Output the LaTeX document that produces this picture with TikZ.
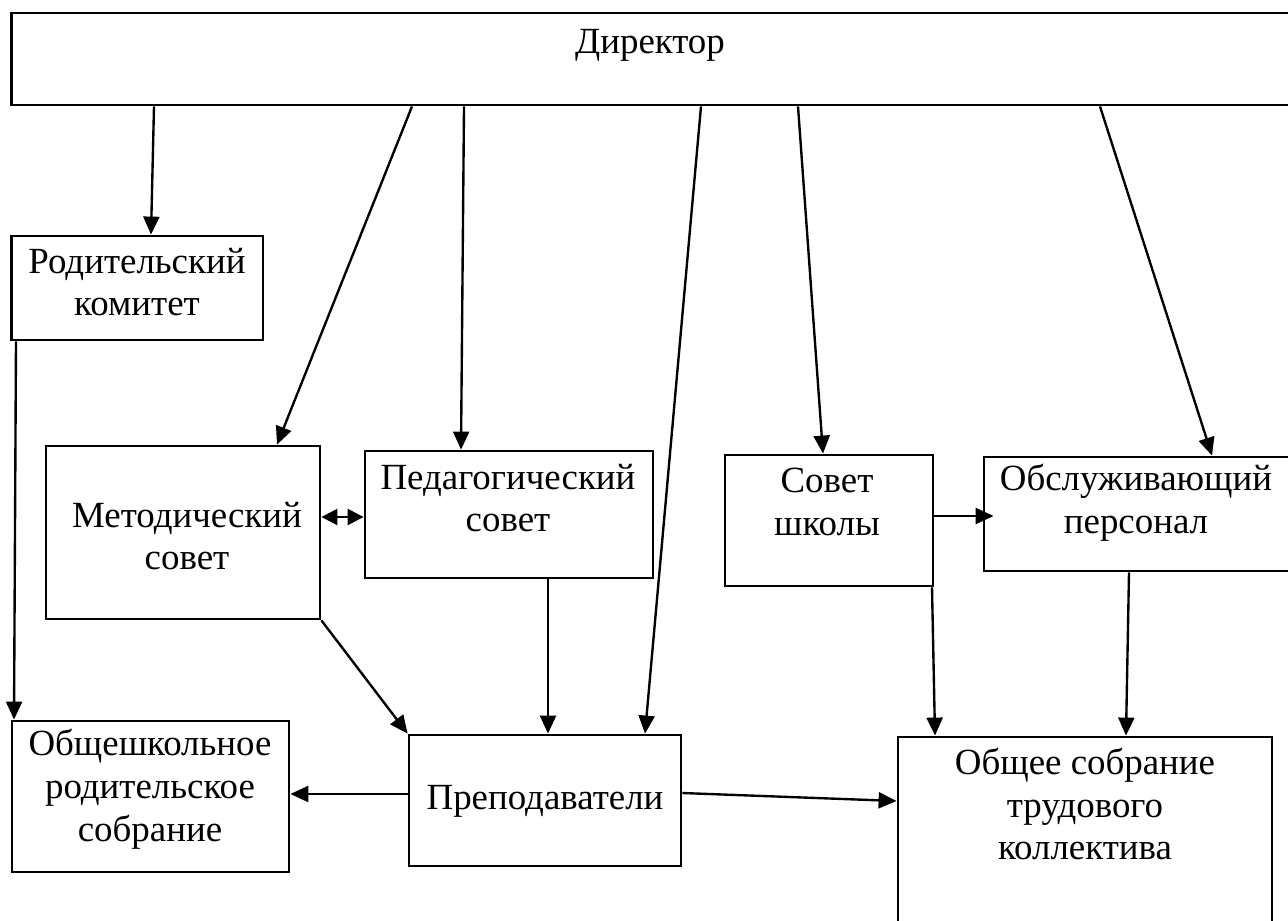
\documentclass[tikz,border=0pt]{standalone}
\usepackage{fontspec}
\setmainfont{Liberation Serif}
\usetikzlibrary{arrows.meta, fit}

\begin{document}
\begin{tikzpicture}[x=0.02cm, y=-0.02cm,
    box/.style={draw, line width=1.6pt, inner sep=0pt},
    txt/.style={align=center, inner sep=0pt, font=\fontsize{21}{24.4}\selectfont},
    arr/.style={-{Triangle[length=0.36cm, width=0.32cm]}, line width=1.35pt},
    dblarr/.style={{Triangle[length=0.32cm, width=0.32cm]}-{Triangle[length=0.32cm, width=0.32cm]}, line width=1.35pt}]
    \useasboundingbox (0,0) rectangle (1288,920);
    \clip (0,0) rectangle (1288,920);

    % Boxes:
    \node[box, fit={(11.5,13) (1300,105)}] (dir) {};
    \node[box, fit={(11.5,236) (263,340)}] (rk) {};
    \node[box, fit={(46,446) (320,619)}] (met) {};
    \node[box, fit={(365,451) (653,578)}] (ped) {};
    \node[box, fit={(725,455) (933,586)}] (ss) {};
    \node[box, fit={(984,457) (1300,571)}] (obs) {};
    \node[box, fit={(12,721) (289,872)}] (obsh) {};
    \node[box, fit={(409,735) (681,866)}] (prep) {};
    \node[box, fit={(898,737) (1272,940)}] (obsob) {};

    % Texts:
    \node[txt] (dirt) at (650,45) {Директор};
    \node[txt] (rkt) at (137,282) {Родительский\\комитет};
    \node[txt] (mett) at (187,536) {Методический\\совет};
    \node[txt] (pedt) at (508,498) {Педагогический\\совет};
    \node[txt] (sst) at (827,502) {Совет\\школы};
    \node[txt] (obst) at (1136,503) {Обслуживающий\\персонал};
    \node[txt] (obsht) at (150,789) {Общешкольное\\родительское\\собрание};
    \node[txt] (prept) at (545,801) {Преподаватели};
    \node[txt] (obsobt) at (1085,804) {Общее собрание\\трудового\\коллектива};

    % Arrows from the director:
    \draw[arr] (154,0 |- dir.south) -- (151,0 |- rk.north);
    \draw[arr] (412,0 |- dir.south) -- (277,0 |- met.north);
    \draw[arr] (464,0 |- dir.south) -- (461,0 |- ped.north);
    \draw[arr] (701,0 |- dir.south) -- (645,0 |- prep.north);
    \draw[arr] (798,0 |- dir.south) -- (823,0 |- ss.north);
    \draw[arr] (1100,0 |- dir.south) -- (1212,0 |- obs.north);

    % Other arrows:
    \draw[arr] (16,0 |- rk.south) -- (14,0 |- obsh.north);
    \draw[dblarr] (met.east |- 0,517) -- (ped.west |- 0,517);
    \draw[arr] (met.south east) -- (prep.north west);
    \draw[arr] (548,0 |- ped.south) -- (548,0 |- prep.north);
    \draw[arr, shorten >=-0.22cm] (ss.east |- 0,516) -- (obs.west |- 0,516);
    \draw[arr] (932,0 |- ss.south) -- (935,0 |- obsob.north);
    \draw[arr] (1129,0 |- obs.south) -- (1126,0 |- obsob.north);
    \draw[arr] (prep.west |- 0,794) -- (obsh.east |- 0,794);
    \draw[arr] (prep.east |- 0,793) -- (obsob.west |- 0,801);
\end{tikzpicture}
\end{document}
